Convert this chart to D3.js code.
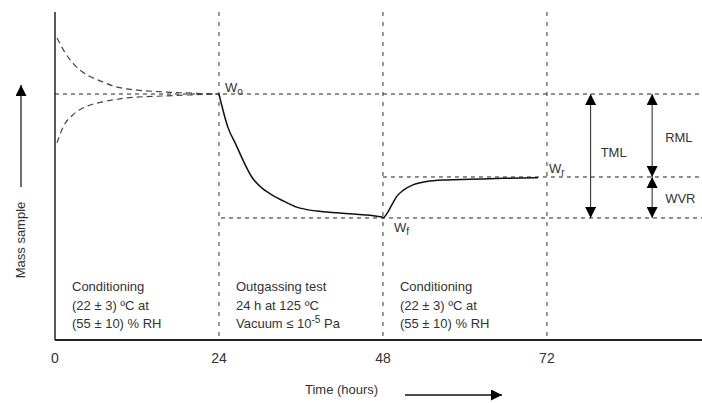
<!DOCTYPE html>
<html>
<head>
<meta charset="utf-8">
<script src="https://cdn.jsdelivr.net/npm/d3@7"></script>
<style>
  body { margin: 0; background: #fff; }
  text { font-family: Arial, "Liberation Sans", sans-serif; fill: #333; }
</style>
</head>
<body>
<script>
// time in hours, mass in arbitrary units (0..100)
const phaseTicks = [0, 24, 48, 72];
const levelW0 = 75;
const levelWr = 49.7;
const levelWf = 37.2;

const upperCondT = [0.3, 1.5, 2.9, 4.7, 6.6, 9.1, 12.0, 16.4, 24];
const upperCondM = [92.1, 87.5, 83.8, 80.8, 79.0, 77.1, 76.2, 75.6, 75];
const lowerCondT = [0.3, 1.2, 2.6, 4.7, 7.0, 10.5, 15.8, 24];
const lowerCondM = [60.1, 65.0, 68.6, 71.3, 72.6, 73.8, 74.4, 75];

const massT = [24, 25.3, 26.5, 27.5, 28.8, 30.3, 31.8, 33.7, 35.4, 38.3, 41.7, 47.9, 48.0,
               48.6, 49.3, 50.0, 51.0, 52.4, 54.4, 57.3, 60.7, 65.6, 70.7];
const massM = [75, 64.9, 59.5, 54.9, 49.7, 46.3, 44.2, 42.1, 40.5, 39.3, 38.7, 37.5, 37.2,
               38.6, 41.2, 43.7, 45.7, 47.3, 48.3, 48.8, 49.0, 49.3, 49.5];

const phaseLabels = [
  ["Conditioning", "(22 ± 3) ºC at", "(55 ± 10) % RH"],
  ["Outgassing test", "24 h at 125 ºC", "Vacuum ≤ 10|-5| Pa"],
  ["Conditioning", "(22 ± 3) ºC at", "(55 ± 10) % RH"]
];

const width = 702, height = 403;
const x = d3.scaleLinear().domain([0, 94.7]).range([55, 702]);
const y = d3.scaleLinear().domain([0, 100]).range([340, 12]);

const svg = d3.select('body').append('svg')
  .attr('width', width).attr('height', height);

const defs = svg.append('defs');
defs.append('marker')
  .attr('id', 'head')
  .attr('viewBox', '0 0 10 10')
  .attr('refX', 10).attr('refY', 5)
  .attr('markerUnits', 'userSpaceOnUse')
  .attr('markerWidth', 11).attr('markerHeight', 11)
  .attr('orient', 'auto-start-reverse')
  .append('path').attr('d', 'M0,0 L10,5 L0,10 Z').attr('fill', '#000');

// phase boundaries (vertical dashed)
svg.selectAll('line.vphase')
  .data(phaseTicks.slice(1))
  .enter().append('line')
  .attr('x1', d => x(d)).attr('x2', d => x(d))
  .attr('y1', y(100)).attr('y2', y(0))
  .attr('stroke', '#333').attr('stroke-width', 1)
  .attr('stroke-dasharray', '4,6');

// horizontal reference levels
const levels = [
  { m: levelW0, from: 0 },
  { m: levelWf, from: 24.3 },
  { m: levelWr, from: 48 }
];
svg.selectAll('line.level')
  .data(levels)
  .enter().append('line')
  .attr('x1', d => x(d.from)).attr('x2', x(94.7))
  .attr('y1', d => y(d.m)).attr('y2', d => y(d.m))
  .attr('stroke', '#222').attr('stroke-width', 1)
  .attr('stroke-dasharray', '4,4');

const line = d3.line().x(d => x(d[0])).y(d => y(d[1])).curve(d3.curveMonotoneX);

// conditioning (dashed) curves
[[upperCondT, upperCondM], [lowerCondT, lowerCondM]].forEach(([t, m]) => {
  svg.append('path')
    .datum(t.map((v, i) => [v, m[i]]))
    .attr('d', line)
    .attr('fill', 'none')
    .attr('stroke', '#444').attr('stroke-width', 1.2)
    .attr('stroke-dasharray', '6,4');
});

// measured mass curve
svg.append('path')
  .datum(massT.map((v, i) => [v, massM[i]]))
  .attr('d', line)
  .attr('fill', 'none')
  .attr('stroke', '#111').attr('stroke-width', 1.5);

// axes
svg.append('line')
  .attr('x1', x(0)).attr('x2', x(0)).attr('y1', y(100)).attr('y2', y(0))
  .attr('stroke', '#222').attr('stroke-width', 1.5);
svg.append('line')
  .attr('x1', x(0)).attr('x2', x(94.7)).attr('y1', y(0)).attr('y2', y(0))
  .attr('stroke', '#222').attr('stroke-width', 2.2);

svg.selectAll('text.tick')
  .data(phaseTicks)
  .enter().append('text')
  .attr('x', d => x(d)).attr('y', 363)
  .attr('text-anchor', 'middle')
  .style('font-size', '14px')
  .text(d => d);

// phase labels
phaseLabels.forEach((lines, i) => {
  const t = svg.append('text')
    .attr('x', x(phaseTicks[i]) + 17)
    .style('font-size', '13px');
  lines.forEach((ln, j) => {
    const parts = ln.split('|');
    const ts = t.append('tspan').attr('x', x(phaseTicks[i]) + 17).attr('y', 291 + j * 18.5).text(parts[0]);
    if (parts.length > 1) {
      t.append('tspan').attr('dy', -5).style('font-size', '10px').text(parts[1]);
      t.append('tspan').attr('dy', 5).text(parts[2]);
    }
  });
});

// W labels
function wLabel(px, py, sub) {
  const t = svg.append('text').attr('x', px).attr('y', py).style('font-size', '13px');
  t.append('tspan').text('W');
  t.append('tspan').attr('dy', 3).style('font-size', '10px').text(sub);
}
wLabel(x(24) + 6, y(levelW0) - 2, 'o');
wLabel(x(48) + 11, y(levelWf) + 14, 'f');
wLabel(x(72) + 2, y(levelWr) - 4, 'r');

// TML / RML / WVR arrows
const arrows = [
  { t: 78.4, a: levelW0, b: levelWf, both: true },
  { t: 87.4, a: levelW0, b: levelWr, both: true },
  { t: 87.4, a: levelWf, b: levelWr, both: true }
];
svg.selectAll('line.dim')
  .data(arrows)
  .enter().append('line')
  .attr('x1', d => x(d.t)).attr('x2', d => x(d.t))
  .attr('y1', d => y(d.a)).attr('y2', d => y(d.b))
  .attr('stroke', '#222').attr('stroke-width', 1)
  .attr('marker-start', 'url(#head)')
  .attr('marker-end', 'url(#head)');

svg.append('text').attr('x', x(78.4) + 10).attr('y', y((levelW0 + levelWf) / 2) + 1)
  .style('font-size', '13px').text('TML');
svg.append('text').attr('x', x(87.4) + 13).attr('y', y(levelW0) + 48)
  .style('font-size', '13px').text('RML');
svg.append('text').attr('x', x(87.4) + 13).attr('y', y(levelWr) + 26)
  .style('font-size', '13px').text('WVR');

// axis titles
svg.append('text')
  .attr('transform', 'translate(25,240) rotate(-90)')
  .attr('text-anchor', 'middle')
  .style('font-size', '13px')
  .text('Mass sample');
svg.append('line')
  .attr('x1', 21).attr('x2', 21).attr('y1', 187).attr('y2', 85)
  .attr('stroke', '#222').attr('stroke-width', 1.3)
  .attr('marker-end', 'url(#head)');

svg.append('text')
  .attr('x', 305).attr('y', 394)
  .style('font-size', '13px')
  .text('Time (hours)');
svg.append('line')
  .attr('x1', 405).attr('x2', 502).attr('y1', 395).attr('y2', 395)
  .attr('stroke', '#111').attr('stroke-width', 1.5)
  .attr('marker-end', 'url(#head)');
</script>
</body>
</html>
